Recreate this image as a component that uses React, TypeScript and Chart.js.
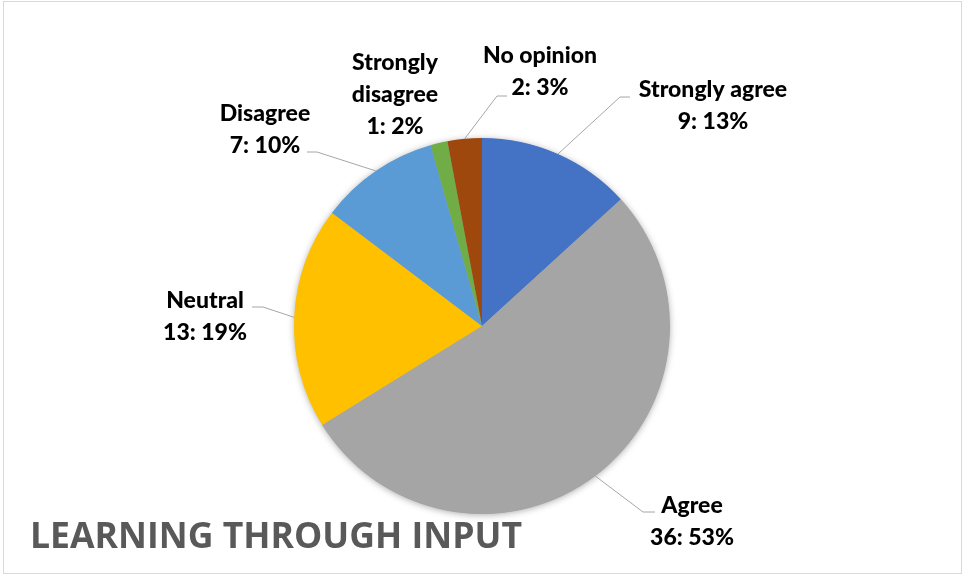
import React, { useEffect, useRef } from "react";
import { Chart, registerables } from "chart.js";

Chart.register(...registerables);

const categories = ["Strongly agree", "Agree", "Neutral", "Disagree", "Strongly disagree", "No opinion"];
const counts = [9, 36, 13, 7, 1, 2];
const percents = [13, 53, 19, 10, 2, 3];
const colors = ["#4472C4", "#A5A5A5", "#FFC000", "#5B9BD5", "#70AD47", "#9E480E"];
const chartTitle = "LEARNING THROUGH INPUT";

// label layout: text centre x, first baseline, wrap words, leader elbow points
const labelLayout = [
  { x: 713, y: 97, wrap: false, leader: [[620, 97], [630, 97]] },
  { x: 692, y: 513, wrap: false, leader: [[643, 512], [655, 512]] },
  { x: 205, y: 308, wrap: false, leader: [[263, 307], [252, 307]] },
  { x: 265, y: 121, wrap: false, leader: [[317, 152], [307, 152]] },
  { x: 395, y: 70, wrap: true, leader: null },
  { x: 540, y: 63, wrap: false, leader: [[497, 96], [507, 96]] },
];

const LINE_H = 32;

const decorPlugin = {
  id: "decor",
  beforeDatasetsDraw(chart: any) {
    const ctx = chart.ctx;
    const arc = chart.getDatasetMeta(0).data[0];
    if (!arc) return;
    const { x, y, outerRadius } = arc.getProps(["x", "y", "outerRadius"], true);
    ctx.save();
    ctx.shadowColor = "rgba(0,0,0,0.35)";
    ctx.shadowBlur = 7;
    ctx.shadowOffsetX = 0;
    ctx.shadowOffsetY = 1;
    ctx.fillStyle = "#A5A5A5";
    ctx.beginPath();
    ctx.arc(x, y, outerRadius - 0.5, 0, Math.PI * 2);
    ctx.fill();
    ctx.restore();
  },
  afterDraw(chart: any) {
    const ctx = chart.ctx;
    const meta = chart.getDatasetMeta(0);
    ctx.save();
    // outer border
    ctx.strokeStyle = "#D9D9D9";
    ctx.lineWidth = 1;
    ctx.strokeRect(3.5, 1.5, 958, 572);

    // leader lines
    ctx.strokeStyle = "#A6A6A6";
    ctx.lineWidth = 1;
    meta.data.forEach((el: any, i: number) => {
      const lay = labelLayout[i];
      if (!lay.leader) return;
      const p = el.getProps(["x", "y", "startAngle", "endAngle", "outerRadius"], true);
      const mid = (p.startAngle + p.endAngle) / 2;
      const sx = p.x + Math.cos(mid) * p.outerRadius;
      const sy = p.y + Math.sin(mid) * p.outerRadius;
      ctx.beginPath();
      ctx.moveTo(sx, sy);
      lay.leader.forEach((pt: number[]) => ctx.lineTo(pt[0], pt[1]));
      ctx.stroke();
    });

    // labels
    ctx.fillStyle = "#000000";
    ctx.font = "900 23px Lato";
    ctx.textAlign = "center";
    ctx.textBaseline = "alphabetic";
    categories.forEach((c, i) => {
      const lay = labelLayout[i];
      const lines = lay.wrap ? c.split(" ") : [c];
      lines.push(`${counts[i]}: ${percents[i]}%`);
      lines.forEach((t, k) => ctx.fillText(t, lay.x, lay.y + k * LINE_H));
    });

    // title
    ctx.fillStyle = "#595959";
    ctx.font = "bold 36px 'Open Sans'";
    ctx.textAlign = "left";
    const w = ctx.measureText(chartTitle).width;
    const target = 492;
    ctx.translate(30, 548);
    ctx.scale(target / w, 1);
    ctx.fillText(chartTitle, 0, 0);
    ctx.restore();
  },
};

export default function App() {
  const ref = useRef<HTMLCanvasElement>(null);
  useEffect(() => {
    if (!ref.current) return;
    const chart = new Chart(ref.current, {
      type: "pie",
      data: {
        labels: categories,
        datasets: [
          {
            data: counts,
            backgroundColor: colors,
            borderWidth: 0,
          },
        ],
      },
      options: {
        responsive: false,
        animation: false,
        devicePixelRatio: 1,
        layout: { padding: { left: 294, right: 293, top: 138, bottom: 62 } },
        plugins: {
          legend: { display: false },
          tooltip: { enabled: false },
        },
      },
      plugins: [decorPlugin],
    });
    return () => chart.destroy();
  }, []);
  return (
    <div style={{ position: "absolute", left: 0, top: 0, width: 963, height: 576, background: "#fff" }}>
      <canvas ref={ref} width={963} height={576} style={{ display: "block" }} />
    </div>
  );
}
